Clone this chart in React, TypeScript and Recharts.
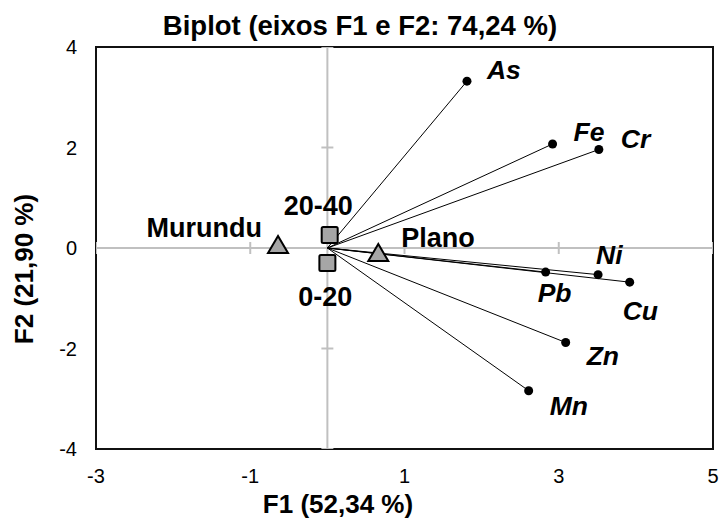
import React from 'react';
import { ScatterChart, Scatter, XAxis, YAxis, ReferenceArea, ReferenceLine } from 'recharts';

// ---- data ----
const variables = ['As', 'Fe', 'Cr', 'Pb', 'Ni', 'Cu', 'Zn', 'Mn'];
const varF1 = [1.81, 2.92, 3.52, 2.83, 3.51, 3.92, 3.09, 2.61];
const varF2 = [3.32, 2.07, 1.96, -0.48, -0.53, -0.68, -1.88, -2.84];

const observations = ['Murundu', 'Plano', '0-20', '20-40'];
const obsF1 = [-0.64, 0.66, 0.0, 0.03];
const obsF2 = [0.06, -0.1, -0.3, 0.26];
const obsKind = ['triangle', 'triangle', 'square', 'square'];

const xTicks = [-3, -1, 1, 3, 5];
const yTicks = [-4, -2, 0, 2, 4];

// ---- label placement (pixel offsets from the mark) ----
const labelOffsets: Record<string, { dx: number; dy: number; anchor: 'start' | 'end' }> = {
  As: { dx: 20, dy: -2, anchor: 'start' },
  Fe: { dx: 21, dy: -3, anchor: 'start' },
  Cr: { dx: 22, dy: -2, anchor: 'start' },
  Ni: { dx: -2, dy: -11, anchor: 'start' },
  Pb: { dx: -8, dy: 30, anchor: 'start' },
  Cu: { dx: -7, dy: 38, anchor: 'start' },
  Zn: { dx: 21, dy: 23, anchor: 'start' },
  Mn: { dx: 21, dy: 24, anchor: 'start' },
  Murundu: { dx: -16, dy: -8, anchor: 'end' },
  '20-40': { dx: 23, dy: -20, anchor: 'end' },
  '0-20': { dx: 25, dy: 43, anchor: 'end' },
  Plano: { dx: 23, dy: -6, anchor: 'start' },
};

const FONT = '"Liberation Sans", Arial, sans-serif';
const GRAY_AXIS = '#c0c0c0';
const MARKER_FILL = '#a6a6a6';

const axisTickMarks = [
  ...xTicks.map((t) => ({ x: t, y: 0, dir: 'v' })),
  ...yTicks.map((t) => ({ x: 0, y: t, dir: 'h' })),
];

const vectorSeries = variables.map((name, i) => ({
  name,
  data: [
    { x: 0, y: 0, origin: true, name },
    { x: varF1[i], y: varF2[i], origin: false, name },
  ],
}));

const obsData = observations.map((name, i) => ({ x: obsF1[i], y: obsF2[i], name, kind: obsKind[i] }));

const TickMarkShape = (p: any) => {
  const { cx, cy, payload } = p;
  if (payload.dir === 'v') {
    return <line x1={cx} x2={cx} y1={cy - 6} y2={cy + 6} stroke={GRAY_AXIS} strokeWidth={2} />;
  }
  return <line x1={cx - 6} x2={cx + 6} y1={cy} y2={cy} stroke={GRAY_AXIS} strokeWidth={2} />;
};

const VectorEndShape = (p: any) => {
  const { cx, cy, payload } = p;
  if (payload.origin) return <g />;
  const off = labelOffsets[payload.name];
  return (
    <g>
      <circle cx={cx} cy={cy} r={4.5} fill="#000" />
      <text
        x={cx + off.dx}
        y={cy + off.dy}
        textAnchor={off.anchor}
        fontFamily={FONT}
        fontSize={26.5}
        fontWeight="bold"
        fontStyle="italic"
        fill="#000"
      >
        {payload.name}
      </text>
    </g>
  );
};

const ObsShape = (p: any) => {
  const { cx, cy, payload } = p;
  const off = labelOffsets[payload.name];
  const marker =
    payload.kind === 'triangle' ? (
      <polygon
        points={`${cx},${cy - 9} ${cx - 10},${cy + 8} ${cx + 10},${cy + 8}`}
        fill={MARKER_FILL}
        stroke="#000"
        strokeWidth={2}
        strokeLinejoin="miter"
      />
    ) : (
      <rect x={cx - 8} y={cy - 8} width={16} height={16} rx={1.5} fill={MARKER_FILL} stroke="#000" strokeWidth={2} />
    );
  return (
    <g>
      {marker}
      <text
        x={cx + off.dx}
        y={cy + off.dy}
        textAnchor={off.anchor}
        fontFamily={FONT}
        fontSize={27}
        fontWeight="bold"
        fill="#000"
      >
        {payload.name}
      </text>
    </g>
  );
};

export default function App() {
  return (
    <div style={{ position: 'absolute', left: 0, top: 0, width: 720, height: 521, background: '#fff' }}>
      <ScatterChart width={720} height={521} margin={{ top: 47, right: 7, bottom: 0, left: 0 }}>
        <XAxis
          type="number"
          dataKey="x"
          domain={[-3, 5]}
          ticks={xTicks}
          allowDataOverflow
          axisLine={false}
          tickLine={false}
          tickSize={0}
          tickMargin={20}
          height={72}
          tick={{ fontSize: 20, fill: '#000', fontFamily: FONT }}
        />
        <YAxis
          type="number"
          dataKey="y"
          domain={[-4, 4]}
          ticks={yTicks}
          allowDataOverflow
          axisLine={false}
          tickLine={false}
          tickSize={0}
          tickMargin={19}
          width={96}
          tick={{ fontSize: 20, fill: '#000', fontFamily: FONT }}
        />
        <ReferenceArea x1={-3} x2={5} y1={-4} y2={4} fill="none" stroke="#111" strokeWidth={2} ifOverflow="visible" />
        <ReferenceLine x={0} stroke={GRAY_AXIS} strokeWidth={2} />
        <ReferenceLine y={0} stroke={GRAY_AXIS} strokeWidth={2} />
        <Scatter data={axisTickMarks} shape={TickMarkShape} isAnimationActive={false} />
        {vectorSeries.map((s) => (
          <Scatter
            key={s.name}
            data={s.data}
            line={{ stroke: '#000', strokeWidth: 1 }}
            shape={VectorEndShape}
            isAnimationActive={false}
          />
        ))}
        <Scatter data={obsData} shape={ObsShape} isAnimationActive={false} />
      </ScatterChart>
      <svg
        width={720}
        height={521}
        style={{ position: 'absolute', left: 0, top: 0, pointerEvents: 'none' }}
      >
        <text x={360} y={35} textAnchor="middle" fontFamily={FONT} fontSize={27.5} fontWeight="bold" fill="#000">
          Biplot (eixos F1 e F2: 74,24 %)
        </text>
        <text x={338} y={513} textAnchor="middle" fontFamily={FONT} fontSize={26} fontWeight="bold" fill="#000">
          F1 (52,34 %)
        </text>
        <text
          x={33}
          y={269}
          textAnchor="middle"
          transform="rotate(-90 33 269)"
          fontFamily={FONT}
          fontSize={26}
          fontWeight="bold"
          fill="#000"
        >
          F2 (21,90 %)
        </text>
      </svg>
    </div>
  );
}
